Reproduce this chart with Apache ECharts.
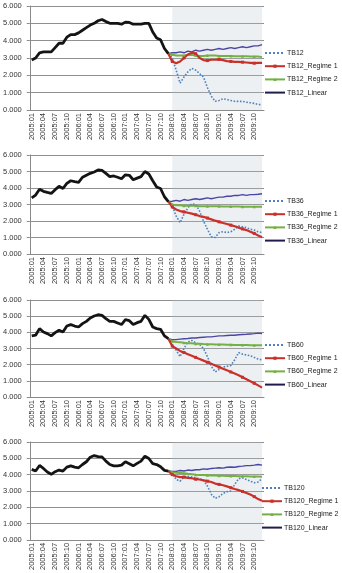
<!DOCTYPE html>
<html>
<head>
<meta charset="utf-8">
<script src="https://cdn.jsdelivr.net/npm/echarts@6/dist/echarts.min.js"></script>
<style>
  html, body { margin: 0; padding: 0; background: #fff; }
  #main { width: 342px; height: 573px; }
</style>
</head>
<body>
<div id="main"></div>
<script>
// 月份 x 轴标签
const years = ['2005', '2006', '2007', '2008', '2009'];
const months = ['01', '02', '03', '04', '05', '06', '07', '08', '09', '10', '11', '12'];
const yTicks = [0, 1, 2, 3, 4, 5, 6];

// TB12: 2005:01 - 2007:12 历史, 2008:01 - 2009:12 预测
const tb12Hist = [2.88, 3.0, 3.3, 3.35, 3.35, 3.35, 3.6, 3.85, 3.85, 4.2, 4.35, 4.35,
  4.45, 4.6, 4.75, 4.9, 5.0, 5.15, 5.22, 5.1, 5.0, 5.0, 5.0, 4.95,
  5.07, 5.05, 4.95, 4.95, 4.95, 5.0, 5.0, 4.5, 4.15, 4.05, 3.55, 3.25];
const tb12Actual = [3.0, 2.3, 1.55, 1.9, 2.2, 2.4, 2.3, 2.1, 1.9, 1.3, 0.8, 0.5,
  0.55, 0.65, 0.6, 0.55, 0.5, 0.5, 0.5, 0.45, 0.42, 0.38, 0.32, 0.3];
const tb12Regime1 = [2.8, 2.7, 2.8, 3.0, 3.2, 3.3, 3.25, 3.0, 2.88, 2.85, 2.9, 2.9,
  2.92, 2.88, 2.82, 2.8, 2.78, 2.78, 2.76, 2.74, 2.72, 2.7, 2.72, 2.72];
const tb12Regime2 = [3.2, 3.15, 3.15, 3.15, 3.18, 3.18, 3.15, 3.12, 3.12, 3.15, 3.15, 3.15,
  3.12, 3.12, 3.12, 3.12, 3.1, 3.1, 3.1, 3.1, 3.08, 3.08, 3.08, 3.05];
const tb12Linear = [3.3, 3.3, 3.35, 3.3, 3.4, 3.35, 3.45, 3.4, 3.45, 3.5, 3.45, 3.5,
  3.55, 3.5, 3.55, 3.6, 3.55, 3.6, 3.65, 3.6, 3.65, 3.7, 3.7, 3.77];

// TB36
const tb36Hist = [3.4, 3.57, 3.93, 3.8, 3.73, 3.67, 3.9, 4.1, 3.97, 4.28, 4.44, 4.38,
  4.34, 4.65, 4.77, 4.89, 4.97, 5.09, 5.07, 4.89, 4.69, 4.73, 4.65, 4.56,
  4.8, 4.77, 4.5, 4.6, 4.69, 5.0, 4.85, 4.44, 4.06, 3.97, 3.47, 3.18];
const tb36Actual = [2.9, 2.3, 1.9, 2.4, 2.8, 3.05, 3.0, 2.6, 2.0, 1.5, 1.05, 1.0,
  1.3, 1.35, 1.3, 1.35, 1.5, 1.7, 1.65, 1.6, 1.5, 1.45, 1.35, 1.3];
const tb36Regime1 = [2.85, 2.7, 2.6, 2.55, 2.5, 2.45, 2.38, 2.3, 2.25, 2.18, 2.1, 2.02,
  1.95, 1.88, 1.82, 1.75, 1.68, 1.6, 1.52, 1.45, 1.35, 1.25, 1.12, 1.02];
const tb36Regime2 = [3.0, 2.95, 2.95, 2.92, 2.92, 2.92, 2.92, 2.9, 2.9, 2.9, 2.9, 2.9,
  2.9, 2.88, 2.88, 2.88, 2.88, 2.88, 2.87, 2.87, 2.87, 2.87, 2.87, 2.87];
const tb36Linear = [3.2, 3.25, 3.2, 3.3, 3.25, 3.3, 3.35, 3.3, 3.35, 3.4, 3.35, 3.4,
  3.45, 3.45, 3.5, 3.5, 3.55, 3.55, 3.6, 3.55, 3.6, 3.6, 3.62, 3.65];

// TB60
const tb60Hist = [3.78, 3.82, 4.23, 4.02, 3.92, 3.78, 3.98, 4.13, 4.02, 4.39, 4.48, 4.39,
  4.33, 4.54, 4.68, 4.89, 5.01, 5.09, 5.05, 4.85, 4.68, 4.68, 4.58, 4.48,
  4.78, 4.72, 4.48, 4.6, 4.68, 5.05, 4.8, 4.33, 4.23, 4.19, 3.78, 3.61];
const tb60Actual = [3.2, 2.9, 2.5, 3.0, 3.4, 3.5, 3.35, 3.25, 3.0, 2.5, 1.9, 1.55,
  1.7, 1.85, 1.9, 1.95, 2.3, 2.75, 2.65, 2.6, 2.55, 2.45, 2.35, 2.3];
const tb60Regime1 = [3.15, 3.0, 2.85, 2.75, 2.65, 2.55, 2.45, 2.35, 2.25, 2.15, 2.05, 1.95,
  1.85, 1.75, 1.65, 1.55, 1.45, 1.35, 1.22, 1.1, 0.98, 0.85, 0.72, 0.58];
const tb60Regime2 = [3.45, 3.4, 3.38, 3.35, 3.33, 3.32, 3.3, 3.3, 3.28, 3.27, 3.26, 3.25,
  3.25, 3.24, 3.23, 3.23, 3.22, 3.22, 3.21, 3.21, 3.2, 3.2, 3.2, 3.2];
const tb60Linear = [3.55, 3.55, 3.58, 3.6, 3.62, 3.65, 3.65, 3.68, 3.7, 3.72, 3.72, 3.75,
  3.78, 3.78, 3.8, 3.82, 3.82, 3.85, 3.87, 3.88, 3.9, 3.92, 3.95, 3.93];

// TB120
const tb120Hist = [4.32, 4.22, 4.56, 4.38, 4.16, 4.02, 4.18, 4.28, 4.22, 4.46, 4.54, 4.46,
  4.42, 4.62, 4.79, 5.07, 5.17, 5.11, 5.09, 4.83, 4.62, 4.54, 4.54, 4.58,
  4.79, 4.67, 4.54, 4.69, 4.83, 5.13, 4.99, 4.67, 4.62, 4.48, 4.26, 4.22];
const tb120Actual = [4.1, 3.7, 3.6, 3.85, 3.9, 3.85, 3.8, 3.75, 3.65, 3.3, 2.8, 2.55,
  2.65, 2.85, 2.95, 3.0, 3.4, 3.75, 3.8, 3.7, 3.6, 3.5, 3.55, 3.75];
const tb120Regime1 = [4.0, 3.9, 3.85, 3.85, 3.8, 3.78, 3.72, 3.7, 3.65, 3.6, 3.55, 3.45,
  3.4, 3.35, 3.28, 3.2, 3.12, 3.05, 2.97, 2.88, 2.78, 2.65, 2.5, 2.4];
const tb120Regime2 = [4.15, 4.12, 4.1, 4.08, 4.05, 4.03, 4.0, 3.98, 3.97, 3.96, 3.95, 3.94,
  3.93, 3.93, 3.92, 3.92, 3.91, 3.9, 3.9, 3.9, 3.89, 3.88, 3.88, 3.87];
const tb120Linear = [4.2, 4.2, 4.25, 4.22, 4.28, 4.25, 4.3, 4.3, 4.35, 4.33, 4.38, 4.4,
  4.42, 4.4, 4.45, 4.47, 4.45, 4.5, 4.52, 4.55, 4.55, 4.58, 4.62, 4.58];

const categories = [];
years.forEach(y => months.forEach(m => categories.push(y + ':' + m)));

const panels = [
  { name: 'TB12', hist: tb12Hist, actual: tb12Actual, r1: tb12Regime1, r2: tb12Regime2, lin: tb12Linear },
  { name: 'TB36', hist: tb36Hist, actual: tb36Actual, r1: tb36Regime1, r2: tb36Regime2, lin: tb36Linear },
  { name: 'TB60', hist: tb60Hist, actual: tb60Actual, r1: tb60Regime1, r2: tb60Regime2, lin: tb60Linear },
  { name: 'TB120', hist: tb120Hist, actual: tb120Actual, r1: tb120Regime1, r2: tb120Regime2, lin: tb120Linear }
];

// 布局 (像素)
const layout = [
  { top: 6, height: 104, legendTop: 49, legendLeft: 264 },
  { top: 155, height: 99, legendTop: 197, legendLeft: 264 },
  { top: 300, height: 97, legendTop: 341, legendLeft: 264 },
  { top: 442, height: 99, legendTop: 484, legendLeft: 261 }
];

const font = 'Liberation Sans, Arial, sans-serif';
const red = '#c9302a', green = '#74b044', blue = '#4f81bd', purple = '#4b45a3', navy = '#1f1d4d';

// 预测线从历史最后一个点接上
function pad(hist, fc) {
  return hist.map((v, i) => (i === hist.length - 1 ? v : null)).concat(fc);
}

const grid = [], xAxis = [], yAxis = [], legend = [], series = [];
panels.forEach((p, i) => {
  const L = layout[i];
  grid.push({ left: 28, width: 236, top: L.top, height: L.height });
  xAxis.push({
    type: 'category', gridIndex: i, data: categories, boundaryGap: true,
    axisLine: { lineStyle: { color: '#8a8a8a' } },
    axisTick: { interval: 2, length: 3, lineStyle: { color: '#8a8a8a' } },
    axisLabel: { interval: 2, rotate: 90, fontSize: 7.5, color: '#333', fontFamily: font, margin: 3 },
    splitLine: { show: false }
  });
  yAxis.push({
    type: 'value', gridIndex: i, min: yTicks[0], max: yTicks[yTicks.length - 1], interval: 1,
    axisLine: { show: true, lineStyle: { color: '#8a8a8a' } },
    axisTick: { show: true, length: 3, lineStyle: { color: '#8a8a8a' } },
    axisLabel: { fontSize: 7.5, color: '#333', fontFamily: font, margin: 8, formatter: v => v.toFixed(3) },
    splitLine: { lineStyle: { color: '#8f8f8f', width: 1 } }
  });
  const n1 = p.name + '_Regime 1', n2 = p.name + '_Regime 2', nl = p.name + '_Linear';
  legend.push({
    orient: 'vertical', left: L.legendLeft, top: L.legendTop, padding: 0,
    itemWidth: 20, itemHeight: 4, itemGap: 5.2,
    textStyle: { fontSize: 7, lineHeight: 8, color: '#222', fontFamily: font, padding: [0, 0, 0, -3] },
    data: [
      { name: p.name, itemStyle: { opacity: 0 } },
      { name: n1 },
      { name: n2 },
      { name: nl, lineStyle: { color: navy, width: 2 }, itemStyle: { opacity: 0 } }
    ]
  });
  series.push({
    name: p.name, type: 'line', xAxisIndex: i, yAxisIndex: i,
    data: pad(p.hist, p.actual), symbol: 'none', connectNulls: false,
    lineStyle: { type: 'dotted', width: 1.6, color: blue }, itemStyle: { color: blue },
    markArea: {
      silent: true,
      itemStyle: { color: 'rgba(190,200,210,0.27)' },
      data: [[{ xAxis: '2008:01' }, { xAxis: '2009:12' }]]
    }
  });
  series.push({
    name: nl, type: 'line', xAxisIndex: i, yAxisIndex: i,
    data: pad(p.hist, p.lin), symbol: 'none',
    lineStyle: { width: 1.4, color: purple }, itemStyle: { color: purple }
  });
  series.push({
    name: n2, type: 'line', xAxisIndex: i, yAxisIndex: i,
    data: pad(p.hist, p.r2), symbol: 'triangle', symbolSize: 3, showSymbol: true,
    lineStyle: { width: 2, color: green }, itemStyle: { color: green }
  });
  series.push({
    name: n1, type: 'line', xAxisIndex: i, yAxisIndex: i,
    data: pad(p.hist, p.r1), symbol: 'rect', symbolSize: 3, showSymbol: true,
    lineStyle: { width: 2.2, color: red }, itemStyle: { color: red }
  });
  series.push({
    name: p.name + '_hist', type: 'line', xAxisIndex: i, yAxisIndex: i,
    data: p.hist, symbol: 'none',
    lineStyle: { width: 2.8, color: '#141414' }, itemStyle: { color: '#141414' }
  });
});

const chart = echarts.init(document.getElementById('main'), null, { renderer: 'canvas' });
chart.setOption({
  animation: false,
  backgroundColor: '#fff',
  grid, xAxis, yAxis, legend, series
});
</script>
</body>
</html>
